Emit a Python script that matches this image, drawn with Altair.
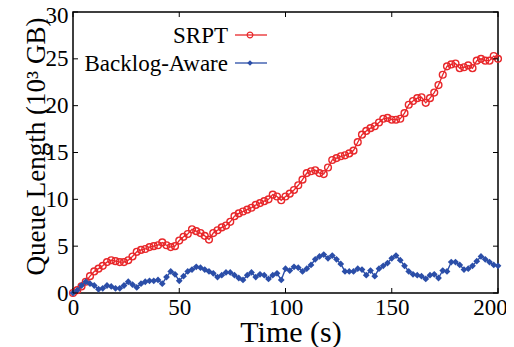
import altair as alt
import pandas as pd

# ---- data ----
time_s = list(range(0, 201, 2))
srpt = [0.0, 0.3, 0.7, 1.2, 1.8, 2.3, 2.6, 2.9, 3.3, 3.5, 3.4, 3.3, 3.3, 3.5, 3.9, 4.4,
        4.6, 4.7, 4.9, 5.0, 5.1, 5.4, 5.1, 4.9, 5.0, 5.6, 6.0, 6.3, 6.8, 6.6, 6.4, 6.1,
        5.7, 6.4, 6.7, 7.0, 7.2, 7.6, 8.2, 8.5, 8.7, 8.9, 9.1, 9.4, 9.6, 9.8, 10.0, 10.5,
        10.3, 9.9, 10.3, 10.6, 11.0, 11.5, 12.1, 12.8, 13.0, 13.1, 12.8, 12.7, 13.4, 14.2,
        14.4, 14.6, 14.7, 14.9, 15.2, 16.1, 16.9, 17.3, 17.6, 17.8, 18.2, 18.6, 18.7, 18.5,
        18.5, 18.6, 19.2, 20.1, 20.5, 20.8, 20.9, 20.3, 20.8, 21.4, 22.2, 23.3, 24.2, 24.4,
        24.5, 24.0, 24.1, 24.3, 24.0, 24.8, 25.0, 24.8, 24.8, 25.3, 25.0]
backlog = [0.0, 0.3, 0.8, 1.2, 1.0, 0.8, 0.4, 0.5, 0.8, 0.7, 0.5, 0.5, 0.8, 1.2, 0.9, 0.6,
           1.0, 1.2, 1.3, 1.3, 1.4, 1.0, 1.7, 2.3, 2.0, 1.3, 1.8, 2.3, 2.5, 2.8, 2.7, 2.5,
           2.3, 2.1, 1.7, 1.9, 2.2, 2.2, 1.9, 1.6, 1.4, 1.9, 2.2, 1.7, 2.0, 1.9, 1.5, 1.9,
           2.1, 1.4, 2.6, 2.4, 2.8, 2.7, 2.3, 2.6, 3.0, 3.6, 3.9, 4.1, 3.7, 4.0, 3.6, 3.1,
           2.3, 2.3, 2.3, 2.6, 2.5, 1.9, 2.4, 1.8, 2.6, 2.9, 3.2, 3.7, 4.0, 3.5, 2.9, 2.3,
           2.0, 1.9, 1.8, 1.5, 1.9, 2.0, 1.6, 2.4, 2.3, 3.3, 3.3, 3.0, 2.5, 2.6, 2.9, 3.4,
           3.9, 3.6, 3.3, 3.0, 2.9]
series_names = ["SRPT", "Backlog-Aware"]
series_colors = ["#e8282b", "#2b4ea8"]
x_ticks = [0, 50, 100, 150, 200]
y_ticks = [0, 5, 10, 15, 20, 25, 30]

W, H = 425, 281
FONT = "Liberation Serif"

df_red = pd.DataFrame({"t": time_s, "v": srpt})
df_blue = pd.DataFrame({"t": time_s, "v": backlog})

xenc = alt.X("t:Q", scale=alt.Scale(domain=[0, 200], nice=False, zero=False),
             axis=alt.Axis(values=x_ticks, title="Time (s)", ticks=False, domain=False,
                           grid=False, labelPadding=3, titleX=W / 2 + 5, titleY=48,
                           titleBaseline="alphabetic", labelFlush=False,
                           labelOffset={"condition": {"test": "datum.value == 200", "value": -8},
                                        "value": 0},
                           labelFont=FONT, titleFont=FONT, labelFontSize=23,
                           titleFontSize=30, titleFontWeight="normal",
                           labelColor="black", titleColor="black"))
yenc = alt.Y("v:Q", scale=alt.Scale(domain=[0, 30], nice=False, zero=False),
             axis=alt.Axis(values=y_ticks, title="Queue Length (10³ GB)", ticks=False,
                           domain=False, grid=False, labelPadding=5, titleX=-29,
                           titleY=134, titleBaseline="alphabetic", titleAngle=270,
                           titleAlign="center", labelFlush=False,
                           labelOffset={"condition": {"test": "datum.value == 30", "value": 3},
                                        "value": 0},
                           labelFont=FONT, titleFont=FONT, labelFontSize=23,
                           titleFontSize=27, titleFontWeight="normal",
                           labelColor="black", titleColor="black"))

red_line = alt.Chart(df_red).mark_line(color=series_colors[0], strokeWidth=1.3).encode(x=xenc, y=yenc)
red_pts = alt.Chart(df_red).mark_point(shape="circle", filled=False, color=series_colors[0],
                                       size=46, strokeWidth=1.4, opacity=1).encode(x=xenc, y=yenc)
blue_line = alt.Chart(df_blue).mark_line(color=series_colors[1], strokeWidth=1.4).encode(x=xenc, y=yenc)
blue_pts = alt.Chart(df_blue).mark_point(shape="diamond", filled=True, color=series_colors[1],
                                         size=46, opacity=1).encode(x=xenc, y=yenc)

df_xt = pd.DataFrame({"t": x_ticks})
df_yt = pd.DataFrame({"v": y_ticks})
tick_bottom = alt.Chart(df_xt).mark_rule(color="black", strokeWidth=1).encode(
    x=xenc, y=alt.value(H), y2=alt.value(H - 5))
tick_top = alt.Chart(df_xt).mark_rule(color="black", strokeWidth=1).encode(
    x=xenc, y=alt.value(0), y2=alt.value(5))
tick_left = alt.Chart(df_yt).mark_rule(color="black", strokeWidth=1).encode(
    y=yenc, x=alt.value(0), x2=alt.value(5))
tick_right = alt.Chart(df_yt).mark_rule(color="black", strokeWidth=1).encode(
    y=yenc, x=alt.value(W), x2=alt.value(W - 5))

# legend (labels left of the samples, as in the reference)
legend_layers = []
for i, (name, col, ypos) in enumerate(zip(series_names, series_colors, [23, 51])):
    ldf = pd.DataFrame({"name": [name]})
    legend_layers.append(alt.Chart(ldf).mark_text(font=FONT, fontSize=23, align="right",
                                                  baseline="middle", color="black").encode(
        text="name:N", x=alt.value(155), y=alt.value(ypos + 1)))
    legend_layers.append(alt.Chart(ldf).mark_rule(color=col, strokeWidth=1.3).encode(
        x=alt.value(162), x2=alt.value(194), y=alt.value(ypos)))
    if i == 0:
        legend_layers.append(alt.Chart(ldf).mark_point(shape="circle", filled=False, color=col,
                                                       size=32, strokeWidth=1.2, opacity=1).encode(
            x=alt.value(177), y=alt.value(ypos)))
    else:
        legend_layers.append(alt.Chart(ldf).mark_point(shape="diamond", filled=True, color=col,
                                                       size=30, opacity=1).encode(
            x=alt.value(177), y=alt.value(ypos)))

chart = alt.layer(red_line, red_pts, blue_line, blue_pts,
                  tick_bottom, tick_top, tick_left, tick_right, *legend_layers).properties(
    width=W, height=H,
    autosize=alt.AutoSizeParams(type="none"),
    padding={"left": 65, "top": 4, "right": 8, "bottom": 54},
    background="white",
).configure_view(stroke="black", strokeWidth=1.5)

chart.save("out.html", embed_options={"renderer": "svg", "actions": False})
